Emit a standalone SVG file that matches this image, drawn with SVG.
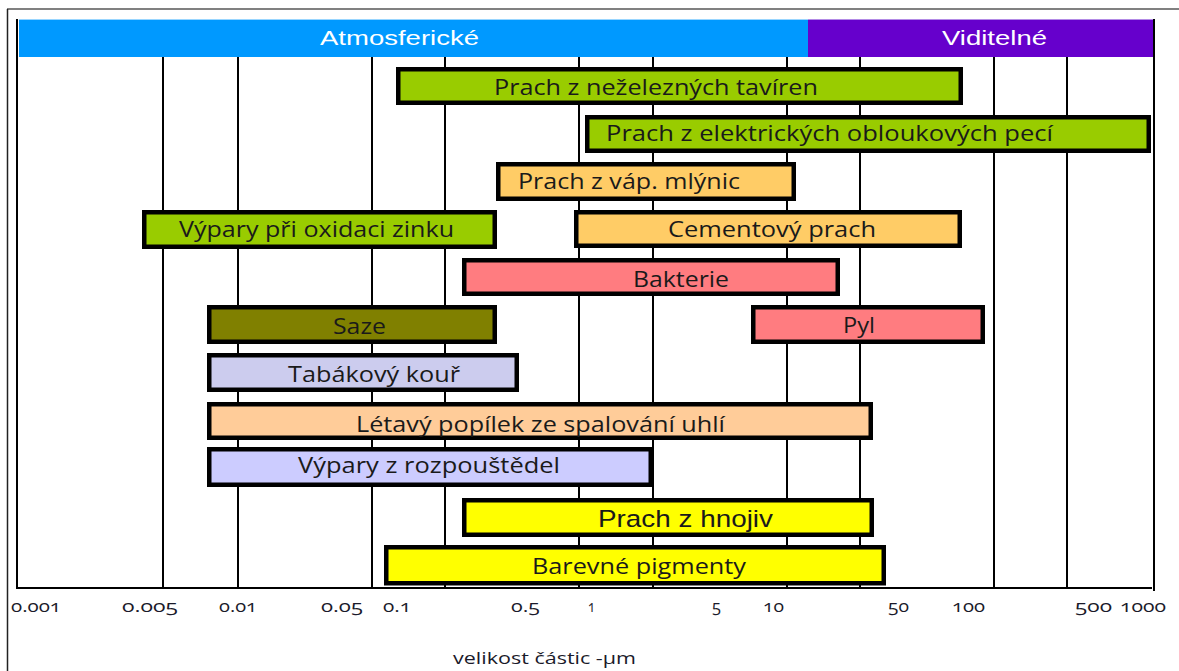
<svg xmlns="http://www.w3.org/2000/svg" width="1179" height="671" viewBox="0 0 1179 671">
<style>
.bar{stroke:#000;stroke-width:4.5}
.lbl{font-family:"Open Sans","Noto Sans",sans-serif;font-size:21px;fill:#1a1a1a}
.arial{font-family:"Liberation Sans",Arial,sans-serif}
.hdr{font-family:"Liberation Sans",Arial,sans-serif;font-size:21px;fill:#fff}
.ax{font-family:"Open Sans","Noto Sans",sans-serif;font-size:17px;fill:#1a1a2a;font-variant-numeric:oldstyle-nums}
.grid{stroke:#000;stroke-width:2}
</style>
<rect width="1179" height="671" fill="#fff"/>
<g id="frame">
<line x1="7" y1="9" x2="1179" y2="9" stroke="#808080" stroke-width="2"/>
<line x1="7.5" y1="9" x2="7.5" y2="671" stroke="#222" stroke-width="1.5"/>
</g>
<g id="header">
<rect x="19" y="19" width="789" height="38" fill="#0099FF"/>
<line x1="19" y1="19.5" x2="808" y2="19.5" stroke="#99D6FF" stroke-width="1"/>
<rect x="808" y="19" width="347" height="38" fill="#6600CC"/>
<line x1="808" y1="19.5" x2="1155" y2="19.5" stroke="#B38BE6" stroke-width="1"/>
<text class="hdr" x="320" y="44.5" textLength="159" lengthAdjust="spacingAndGlyphs">Atmosferické</text>
<text class="hdr" x="942" y="45" textLength="105" lengthAdjust="spacingAndGlyphs">Viditelné</text>
</g>
<g id="grid">
<line class="grid" x1="17" y1="19" x2="17" y2="589"/>
<line class="grid" x1="163" y1="57" x2="163" y2="588"/>
<line class="grid" x1="238" y1="57" x2="238" y2="588"/>
<line class="grid" x1="372" y1="57" x2="372" y2="588"/>
<line class="grid" x1="445" y1="57" x2="445" y2="588"/>
<line class="grid" x1="579" y1="57" x2="579" y2="588"/>
<line class="grid" x1="653" y1="57" x2="653" y2="588"/>
<line class="grid" x1="787" y1="57" x2="787" y2="588"/>
<line class="grid" x1="860" y1="57" x2="860" y2="588"/>
<line class="grid" x1="994" y1="57" x2="994" y2="588"/>
<line class="grid" x1="1067" y1="57" x2="1067" y2="588"/>
<line class="grid" x1="1154" y1="19" x2="1154" y2="591"/>
<line class="grid" x1="16" y1="588" x2="1152" y2="588"/>
</g>
<g id="n1"><rect class="bar" x="398.25" y="69.25" width="562.5" height="33.5" fill="#99CC00"/><text class="lbl" x="494" y="95" textLength="324" lengthAdjust="spacingAndGlyphs">Prach z neželezných tavíren</text></g>
<g id="n2"><rect class="bar" x="587.25" y="117.25" width="561.5" height="33.5" fill="#99CC00"/><text class="lbl" x="606" y="141" textLength="447" lengthAdjust="spacingAndGlyphs">Prach z elektrických obloukových pecí</text></g>
<g id="n3"><rect class="bar" x="498.25" y="164.25" width="295.5" height="34.5" fill="#FFCC66"/><text class="lbl" x="518" y="188.5" textLength="222" lengthAdjust="spacingAndGlyphs">Prach z váp. mlýnic</text></g>
<g id="n4"><rect class="bar" x="144.25" y="212.25" width="350.5" height="34.5" fill="#99CC00"/><text class="lbl" x="179" y="237" textLength="275" lengthAdjust="spacingAndGlyphs">Výpary při oxidaci zinku</text></g>
<g id="n5"><rect class="bar" x="576.25" y="212.25" width="383.5" height="33.5" fill="#FFCC66"/><text class="lbl" x="668" y="237" textLength="208" lengthAdjust="spacingAndGlyphs">Cementový prach</text></g>
<g id="n6"><rect class="bar" x="464.25" y="260.25" width="373.5" height="33.5" fill="#FF7C80"/><text class="lbl" x="633" y="287" textLength="96" lengthAdjust="spacingAndGlyphs">Bakterie</text></g>
<g id="n7"><rect class="bar" x="753.25" y="307.25" width="229.5" height="34.5" fill="#FF7C80"/><text class="lbl" x="843" y="333" textLength="32" lengthAdjust="spacingAndGlyphs">Pyl</text></g>
<g id="n8"><rect class="bar" x="209.25" y="307.25" width="285.5" height="34.5" fill="#808000"/><text class="lbl" x="333" y="334" textLength="53" lengthAdjust="spacingAndGlyphs">Saze</text></g>
<g id="n9"><rect class="bar" x="209.25" y="355.25" width="307.5" height="34.5" fill="#CCCCEE"/><text class="lbl" x="288" y="382" textLength="172" lengthAdjust="spacingAndGlyphs">Tabákový kouř</text></g>
<g id="n10"><rect class="bar" x="209.25" y="404.25" width="661.5" height="33.5" fill="#FFCC99"/><text class="lbl" x="356" y="431.5" textLength="369" lengthAdjust="spacingAndGlyphs">Létavý popílek ze spalování uhlí</text></g>
<g id="n11"><rect class="bar" x="209.25" y="449.25" width="441.5" height="35.5" fill="#CCCCFF"/><text class="lbl" x="298" y="472.5" textLength="262" lengthAdjust="spacingAndGlyphs">Výpary z rozpouštědel</text></g>
<g id="n12"><rect class="bar" x="464.25" y="500.25" width="407.5" height="34.5" fill="#FFFF00"/><text class="lbl arial" x="598" y="526.5" textLength="175" lengthAdjust="spacingAndGlyphs" style="font-size:24.5px">Prach z hnojiv</text></g>
<g id="n13"><rect class="bar" x="386.25" y="547.25" width="497.5" height="36" fill="#FFFF00"/><text class="lbl" x="532" y="574" textLength="214" lengthAdjust="spacingAndGlyphs">Barevné pigmenty</text></g>
<g id="axis-labels">
<text class="ax" x="11" y="612" textLength="50" lengthAdjust="spacingAndGlyphs">0.001</text>
<text class="ax" x="122" y="612" textLength="56" lengthAdjust="spacingAndGlyphs">0.005</text>
<text class="ax" x="219" y="612" textLength="38" lengthAdjust="spacingAndGlyphs">0.01</text>
<text class="ax" x="321" y="612" textLength="42" lengthAdjust="spacingAndGlyphs">0.05</text>
<text class="ax" x="383" y="612" textLength="28" lengthAdjust="spacingAndGlyphs">0.1</text>
<text class="ax" x="511" y="612" textLength="29" lengthAdjust="spacingAndGlyphs">0.5</text>
<text class="ax" x="588" y="612" textLength="7" lengthAdjust="spacingAndGlyphs">1</text>
<text class="ax" x="712" y="612" textLength="9" lengthAdjust="spacingAndGlyphs">5</text>
<text class="ax" x="763" y="612" textLength="21" lengthAdjust="spacingAndGlyphs">10</text>
<text class="ax" x="888" y="612" textLength="21" lengthAdjust="spacingAndGlyphs">50</text>
<text class="ax" x="952" y="612" textLength="33" lengthAdjust="spacingAndGlyphs">100</text>
<text class="ax" x="1075" y="612" textLength="37" lengthAdjust="spacingAndGlyphs">500</text>
<text class="ax" x="1120" y="612" textLength="46" lengthAdjust="spacingAndGlyphs">1000</text>
<text class="ax" x="453" y="664" textLength="183" lengthAdjust="spacingAndGlyphs">velikost částic -µm</text>
</g>
</svg>
